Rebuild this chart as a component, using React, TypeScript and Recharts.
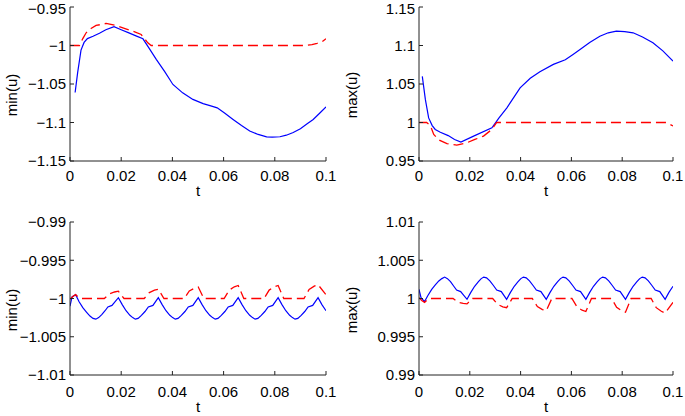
import { LineChart, Line, XAxis, YAxis } from "recharts";

const FONT = '"Liberation Sans", Arial, Helvetica, sans-serif';

const tTicks = [0, 0.02, 0.04, 0.06, 0.08, 0.1];
const minTopTicks = [-1.15, -1.1, -1.05, -1, -0.95];
const maxTopTicks = [0.95, 1, 1.05, 1.1, 1.15];
const minBottomTicks = [-1.01, -1.005, -1, -0.995, -0.99];
const maxBottomTicks = [0.99, 0.995, 1, 1.005, 1.01];

// top-left: min(u)
const tlBlueT = [0.002, 0.003, 0.0043, 0.0055, 0.0068, 0.009, 0.0115, 0.014, 0.0172, 0.02, 0.023, 0.026, 0.0285, 0.031, 0.0337, 0.037, 0.0402, 0.044, 0.048, 0.052, 0.055, 0.0575, 0.0605, 0.0637, 0.067, 0.0702, 0.0735, 0.0768, 0.079, 0.082, 0.0845, 0.0872, 0.09, 0.0925, 0.095, 0.0975, 0.1];
const tlBlueY = [-1.061, -1.035, -1.006, -0.996, -0.991, -0.988, -0.984, -0.9795, -0.9755, -0.9795, -0.9836, -0.9878, -0.9913, -1.004, -1.018, -1.034, -1.0506, -1.0615, -1.07, -1.0755, -1.0785, -1.081, -1.088, -1.096, -1.104, -1.111, -1.1155, -1.1186, -1.119, -1.1185, -1.1165, -1.113, -1.108, -1.102, -1.096, -1.088, -1.0797];
const tlRedT = [0, 0.0037, 0.005, 0.0063, 0.0082, 0.0102, 0.0141, 0.018, 0.0215, 0.0245, 0.0278, 0.0304, 0.0317, 0.092, 0.0945, 0.0965, 0.0985, 0.1];
const tlRedY = [-1, -1, -0.991, -0.9835, -0.978, -0.974, -0.9714, -0.974, -0.978, -0.9814, -0.9857, -0.9965, -1, -1, -0.9988, -0.9972, -0.995, -0.9913];

// top-right: max(u)
const trBlueT = [0.0013, 0.0025, 0.0038, 0.0052, 0.0064, 0.0084, 0.0115, 0.014, 0.0165, 0.0215, 0.0287, 0.0315, 0.0346, 0.0398, 0.0438, 0.0476, 0.0529, 0.0576, 0.0605, 0.0634, 0.0672, 0.0712, 0.0745, 0.0777, 0.081, 0.0843, 0.088, 0.0921, 0.096, 0.1];
const trBlueY = [1.06, 1.03, 1.006, 0.996, 0.991, 0.9874, 0.983, 0.978, 0.9745, 0.9823, 0.993, 1.006, 1.019, 1.045, 1.0575, 1.066, 1.0755, 1.0815, 1.088, 1.0948, 1.104, 1.1121, 1.1165, 1.1186, 1.118, 1.1165, 1.111, 1.1035, 1.093, 1.0797];
const trRedT = [0, 0.003, 0.0045, 0.0058, 0.008, 0.011, 0.0149, 0.0188, 0.022, 0.0254, 0.0287, 0.0306, 0.0975, 0.1];
const trRedY = [1, 1, 0.996, 0.9844, 0.977, 0.9727, 0.9706, 0.9736, 0.978, 0.9823, 0.991, 1, 1, 0.9955];

// bottom row: shared time grid for the blue curves
const bBlueT = [
  0, 0.0008, 0.0022, 0.0035, 0.005, 0.0065, 0.0078, 0.009, 0.0101, 0.0112, 0.0124, 0.0137, 0.0148, 0.0164, 0.0189,
  0.0204, 0.0219, 0.0234, 0.0245, 0.0255, 0.0266, 0.0279, 0.0293, 0.0306, 0.0324, 0.0345,
  0.036, 0.0375, 0.039, 0.0401, 0.0411, 0.0422, 0.0435, 0.0449, 0.0462, 0.048, 0.0501,
  0.0516, 0.0531, 0.0546, 0.0557, 0.0567, 0.0578, 0.0591, 0.0605, 0.0618, 0.0636, 0.0657,
  0.0672, 0.0687, 0.0702, 0.0713, 0.0723, 0.0734, 0.0747, 0.0761, 0.0774, 0.0792, 0.0813,
  0.0828, 0.0843, 0.0858, 0.0869, 0.0879, 0.089, 0.0903, 0.0917, 0.093, 0.0948, 0.0969,
  0.0984, 0.1,
];
const blBlueY = [
  -1.001, -0.9998, -0.9995, -1.0004, -1.0012, -1.0018, -1.0023, -1.0026, -1.0027, -1.0025, -1.0021, -1.0016, -1.0011, -1.0009, -0.9999,
  -1.0008, -1.0016, -1.0022, -1.0025, -1.0027, -1.0026, -1.0022, -1.0017, -1.0011, -1.0009, -0.9999,
  -1.0008, -1.0016, -1.0022, -1.0025, -1.0027, -1.0026, -1.0022, -1.0017, -1.0011, -1.0009, -0.9999,
  -1.0008, -1.0016, -1.0022, -1.0025, -1.0027, -1.0026, -1.0022, -1.0017, -1.0011, -1.0009, -0.9999,
  -1.0008, -1.0016, -1.0022, -1.0025, -1.0027, -1.0026, -1.0022, -1.0017, -1.0011, -1.0009, -0.9999,
  -1.0008, -1.0016, -1.0022, -1.0025, -1.0027, -1.0026, -1.0022, -1.0017, -1.0011, -1.0009, -0.9999,
  -1.0008, -1.0016,
];
const brBlueY = [
  1.0012, 1.0001, 0.9996, 1.0004, 1.0012, 1.0018, 1.0023, 1.0026, 1.0028, 1.0026, 1.0022, 1.0016, 1.0011, 1.0009, 0.9999,
  1.0008, 1.0016, 1.0022, 1.0026, 1.0028, 1.0027, 1.0023, 1.0017, 1.0011, 1.0009, 0.9999,
  1.0008, 1.0016, 1.0022, 1.0026, 1.0028, 1.0027, 1.0023, 1.0017, 1.0011, 1.0009, 0.9999,
  1.0008, 1.0016, 1.0022, 1.0026, 1.0028, 1.0027, 1.0023, 1.0017, 1.0011, 1.0009, 0.9999,
  1.0008, 1.0016, 1.0022, 1.0026, 1.0028, 1.0027, 1.0023, 1.0017, 1.0011, 1.0009, 0.9999,
  1.0008, 1.0016, 1.0022, 1.0026, 1.0028, 1.0027, 1.0023, 1.0017, 1.0011, 1.0009, 0.9999,
  1.0008, 1.0016,
];

const bRedT = [0, 0.0012, 0.0022, 0.0032, 0.0042, 0.0134, 0.0154, 0.0174, 0.0189, 0.0211, 0.029, 0.031, 0.033, 0.0345, 0.0367, 0.0446, 0.0466, 0.0486, 0.0501, 0.0523, 0.0602, 0.0622, 0.0642, 0.0657, 0.0679, 0.0758, 0.0778, 0.0798, 0.0813, 0.0835, 0.0914, 0.0934, 0.0954, 0.0969, 0.1];
const blRedY = [-1.0001, -0.9997, -0.9995, -0.9998, -1, -1, -0.99938, -0.99915, -0.99905, -1, -1, -0.99922, -0.99892, -0.9988, -1, -1, -0.99902, -0.99865, -0.9985, -1, -1, -0.9989, -0.99847, -0.9983, -1, -1, -0.9989, -0.99847, -0.9983, -1, -1, -0.99883, -0.99838, -0.9982, -0.9995];
const brRedY = [1.0001, 0.9997, 0.9995, 0.9998, 1, 1, 0.9995, 0.99935, 0.9993, 1, 1, 0.99922, 0.99892, 0.9988, 1, 1, 0.99895, 0.99855, 0.9984, 1, 1, 0.9989, 0.99847, 0.9983, 1, 1, 0.99885, 0.9984, 0.9982, 1, 1, 0.9988, 0.99833, 0.9981, 0.9995];

const pts = (ts: number[], vs: number[]) => ts.map((t, i) => ({ t, v: vs[i] }));

const fmt = (v: number) => (v < 0 ? "\u2212" + String(-v) : String(v));

const FS = 15;

type PanelProps = {
  left: number;
  top: number;
  width: number;
  height: number;
  plotLeft: number;
  plotRight: number;
  plotTop: number;
  plotBottom: number;
  yTicks: number[];
  blue: { t: number; v: number }[];
  red: { t: number; v: number }[];
  yLabel: string;
  xTickMargin: number;
};

function Panel(p: PanelProps) {
  const margin = { top: p.plotTop - p.top, right: p.left + p.width - p.plotRight, bottom: 0, left: 0 };
  const axisStyle = { stroke: "#222", strokeWidth: 1 };
  const tickStyle = { fill: "#000", fontSize: FS, fontFamily: FONT };
  const yDomain = [p.yTicks[0], p.yTicks[p.yTicks.length - 1]];
  const midY = (p.plotTop + p.plotBottom) / 2;
  return (
    <>
      <div style={{ position: "absolute", left: p.left, top: p.top, width: p.width, height: p.height }}>
        <LineChart width={p.width} height={p.height} margin={margin}>
          <XAxis
            xAxisId="b"
            dataKey="t"
            type="number"
            domain={[0, 0.1]}
            ticks={tTicks}
            allowDataOverflow
            height={p.top + p.height - p.plotBottom}
            tickSize={-4}
            tickMargin={p.xTickMargin}
            tick={tickStyle}
            tickFormatter={fmt}
            axisLine={axisStyle}
            tickLine={axisStyle}
          />
          <XAxis
            xAxisId="tp"
            orientation="top"
            type="number"
            domain={[0, 0.1]}
            ticks={tTicks}
            height={0}
            tickSize={4}
            tick={false}
            axisLine={axisStyle}
            tickLine={axisStyle}
          />
          <YAxis
            yAxisId="l"
            type="number"
            domain={yDomain}
            ticks={p.yTicks}
            allowDataOverflow
            width={p.plotLeft - p.left}
            tickSize={-4}
            tickMargin={8}
            tick={tickStyle}
            tickFormatter={fmt}
            axisLine={axisStyle}
            tickLine={axisStyle}
          />
          <YAxis
            yAxisId="r"
            orientation="right"
            type="number"
            domain={yDomain}
            ticks={p.yTicks}
            width={0}
            tickSize={4}
            tick={false}
            axisLine={axisStyle}
            tickLine={axisStyle}
          />
          <Line
            xAxisId="b"
            yAxisId="l"
            data={p.blue}
            dataKey="v"
            stroke="#0000ff"
            strokeWidth={1.2}
            dot={false}
            activeDot={false}
            isAnimationActive={false}
          />
          <Line
            xAxisId="b"
            yAxisId="l"
            data={p.red}
            dataKey="v"
            stroke="#ff0000"
            strokeWidth={1.3}
            strokeDasharray="10 5"
            dot={false}
            activeDot={false}
            isAnimationActive={false}
          />
        </LineChart>
      </div>
      <div
        style={{
          position: "absolute",
          left: p.left + 11,
          top: midY + 11,
          transform: "translate(-50%, -50%) rotate(-90deg)",
          fontSize: FS,
          lineHeight: 1,
          whiteSpace: "nowrap",
        }}
      >
        {p.yLabel}
      </div>
      <div
        style={{
          position: "absolute",
          left: (p.plotLeft + p.plotRight) / 2,
          top: p.plotBottom + (p.top === 0 ? 29 : 31),
          transform: "translate(-50%, -50%)",
          fontSize: FS,
          lineHeight: 1,
        }}
      >
        t
      </div>
    </>
  );
}

export default function App() {
  return (
    <div
      style={{
        position: "absolute",
        left: 0,
        top: 0,
        width: 685,
        height: 416,
        background: "#fff",
        fontFamily: FONT,
        color: "#000",
      }}
    >
      <Panel
        left={0} top={0} width={340} height={210}
        plotLeft={70} plotRight={326} plotTop={7} plotBottom={161}
        yTicks={minTopTicks}
        blue={pts(tlBlueT, tlBlueY)}
        red={pts(tlRedT, tlRedY)}
        yLabel="min(u)"
        xTickMargin={13}
      />
      <Panel
        left={340} top={0} width={345} height={210}
        plotLeft={419} plotRight={673} plotTop={7} plotBottom={161}
        yTicks={maxTopTicks}
        blue={pts(trBlueT, trBlueY)}
        red={pts(trRedT, trRedY)}
        yLabel="max(u)"
        xTickMargin={13}
      />
      <Panel
        left={0} top={210} width={340} height={206}
        plotLeft={70} plotRight={326} plotTop={222} plotBottom={375}
        yTicks={minBottomTicks}
        blue={pts(bBlueT, blBlueY)}
        red={pts(bRedT, blRedY)}
        yLabel="min(u)"
        xTickMargin={15}
      />
      <Panel
        left={340} top={210} width={345} height={206}
        plotLeft={419} plotRight={673} plotTop={222} plotBottom={375}
        yTicks={maxBottomTicks}
        blue={pts(bBlueT, brBlueY)}
        red={pts(bRedT, brRedY)}
        yLabel="max(u)"
        xTickMargin={15}
      />
    </div>
  );
}
